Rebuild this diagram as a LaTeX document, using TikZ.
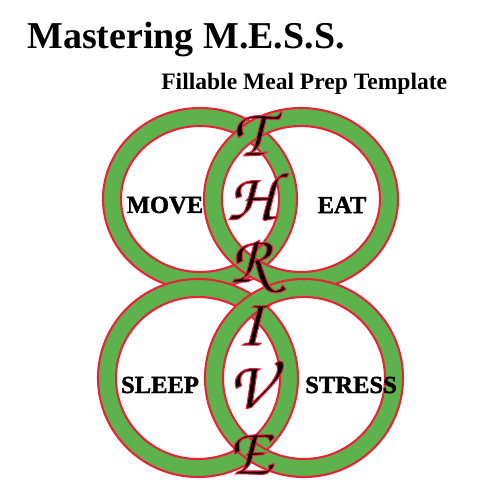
\documentclass[tikz,border=0pt]{standalone}
\usepackage{fontspec}
\setmainfont{Liberation Serif}
\newfontfamily\heavyfont{Liberation Serif Bold}[FakeBold=1.6]
\definecolor{ringgreen}{RGB}{94,178,78}
\definecolor{ringred}{RGB}{230,35,55}
\tikzstyle{band}=[fill=ringgreen,even odd rule]
\tikzstyle{rim}=[draw=ringred,line width=1.2pt]
\tikzstyle{heading}=[inner sep=0pt,anchor=base west,font=\fontsize{21.6}{22}\selectfont\bfseries]
\tikzstyle{subheading}=[inner sep=0pt,anchor=base west,font=\fontsize{13.4}{14}\selectfont\bfseries]
\tikzstyle{area}=[inner sep=0pt,font=\heavyfont\fontsize{14}{14}\selectfont]
\tikzstyle{letter}=[inner sep=0pt,font=\fontencoding{OT1}\fontfamily{pzc}\fontseries{mb}\fontshape{it}\fontsize{39}{39}\selectfont]
% thin red rim round the script letters (fill + stroke)
\newcommand{\rimmed}[1]{\special{pdf:literal direct 2 Tr 0.6 w 0.902 0.137 0.216 RG}#1\special{pdf:literal direct 0 Tr}}
\newcommand{\drawring}[4]{%
  \fill[band] (#1,#2) ellipse (#3 and #4) (#1,#2) ellipse ({#3-18} and {#4-18});
  \draw[rim] (#1,#2) ellipse (#3 and #4) (#1,#2) ellipse ({#3-18} and {#4-18});
}
\begin{document}
\begin{tikzpicture}[x=0.02cm,y=-0.02cm]
			\useasboundingbox (0,0) rectangle (500,500);
			\node[heading] (title) at (27,49) {Mastering M.E.S.S.};
			\node[subheading] (subtitle) at (161,90) {Fillable Meal Prep Template};
			\drawring{200}{199}{97}{91}
			\drawring{301}{199}{97}{91}
			\drawring{198}{378}{100}{99}
			\drawring{304}{378}{99}{99}
			\node[area] (move) at (165,205) {MOVE};
			\node[area] (eat) at (342,205) {EAT};
			\node[area] (sleep) at (160,385) {SLEEP};
			\node[area] (stress) at (351,385) {STRESS};
			\foreach \ch/\yy [count=\i] in {T/133,H/196,R/266,I/325,V/384,E/453}
				\node[letter] (thrive\i) at (250,\yy) {\rimmed{\ch}};
		\end{tikzpicture}
\end{document}
